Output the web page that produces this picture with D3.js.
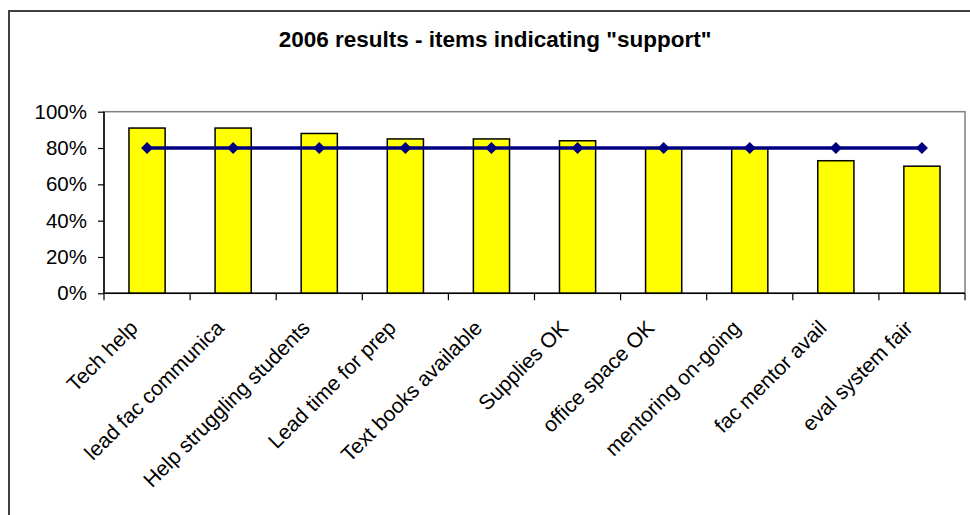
<!DOCTYPE html>
<html><head><meta charset="utf-8">
<script src="https://cdn.jsdelivr.net/npm/d3@7"></script>
<style>body{margin:0;background:#fff}svg{display:block}</style>
</head><body>
<svg id="c" width="970" height="515"></svg>
<script>
const categories = ["Tech help","lead fac communica","Help struggling students","Lead time for prep","Text books available","Supplies OK","office space OK","mentoring on-going","fac mentor avail","eval system fair"];
const supportValues = [0.91,0.91,0.88,0.85,0.85,0.84,0.80,0.80,0.73,0.70];
const targetValues = [0.80,0.80,0.80,0.80,0.80,0.80,0.80,0.80,0.80,0.80];
const yTicks = [0,0.2,0.4,0.6,0.8,1.0];
const title = '2006 results - items indicating "support"';

const svg = d3.select("#c");
const font = "Liberation Sans, Arial, sans-serif";
// chart frame
svg.append("rect").attr("x",9).attr("y",11).attr("width",990).attr("height",540)
  .attr("fill","#fff").attr("stroke","#404040").attr("stroke-width",2);

const L=104, R=965, T=111.7, B=293.3;
const x = d3.scaleBand().domain(categories).range([L,R]).paddingInner(0).paddingOuter(0);
const y = d3.scaleLinear().domain([0,1]).range([B,T]);

// plot area border
svg.append("rect").attr("x",L).attr("y",T).attr("width",R-L).attr("height",B-T)
  .attr("fill","none").attr("stroke","#808080").attr("stroke-width",1.5);

// title
svg.append("text").attr("x",495).attr("y",47).attr("text-anchor","middle")
  .attr("font-family",font).attr("font-weight","bold").attr("font-size",22.5).text(title);

// bars
const bw = x.bandwidth()*0.42;
svg.append("g").selectAll("rect").data(supportValues).join("rect")
  .attr("x",(d,i)=>x(categories[i])+x.bandwidth()/2-bw/2)
  .attr("y",d=>y(d)).attr("width",bw).attr("height",d=>B-y(d))
  .attr("fill","#ffff00").attr("stroke","#000").attr("stroke-width",1.5);

// y axis
const ya = svg.append("g").attr("transform",`translate(${L},0)`)
  .call(d3.axisLeft(y).tickValues(yTicks).tickFormat(d3.format(".0%")).tickSize(6).tickPadding(11));
ya.select(".domain").attr("stroke","#000").attr("stroke-width",1.5).attr("d",`M0,${B}V${T}`);
ya.selectAll(".tick line").attr("stroke","#000").attr("stroke-width",1.2);
ya.selectAll(".tick text").attr("font-family",font).attr("font-size",20.5).attr("fill","#000");

// x axis with boundary ticks
const xa = svg.append("g").attr("transform",`translate(0,${B})`);
xa.append("line").attr("x1",L).attr("x2",R).attr("stroke","#000").attr("stroke-width",1.5);
const bounds = categories.map(c=>x(c)).concat([R]);
xa.selectAll("line.tk").data(bounds).join("line").attr("class","tk")
  .attr("x1",d=>d).attr("x2",d=>d).attr("y1",0).attr("y2",7).attr("stroke","#000").attr("stroke-width",1.2);
xa.selectAll("text").data(categories).join("text")
  .attr("transform",c=>`translate(${x(c)+x.bandwidth()/2-8},${36}) rotate(-45)`)
  .attr("text-anchor","end")
  .attr("font-family",font).attr("font-size",21).attr("fill","#000").text(c=>c);

// line series
const line = d3.line().x((d,i)=>x(categories[i])+x.bandwidth()/2).y(d=>y(d));
svg.append("path").datum(targetValues).attr("d",line).attr("fill","none")
  .attr("stroke","#000080").attr("stroke-width",3.5);
svg.append("g").selectAll("path").data(targetValues).join("path")
  .attr("transform",(d,i)=>`translate(${x(categories[i])+x.bandwidth()/2},${y(d)})`)
  .attr("d","M0,-6L6,0L0,6L-6,0Z").attr("fill","#000080");
</script>
</body></html>
